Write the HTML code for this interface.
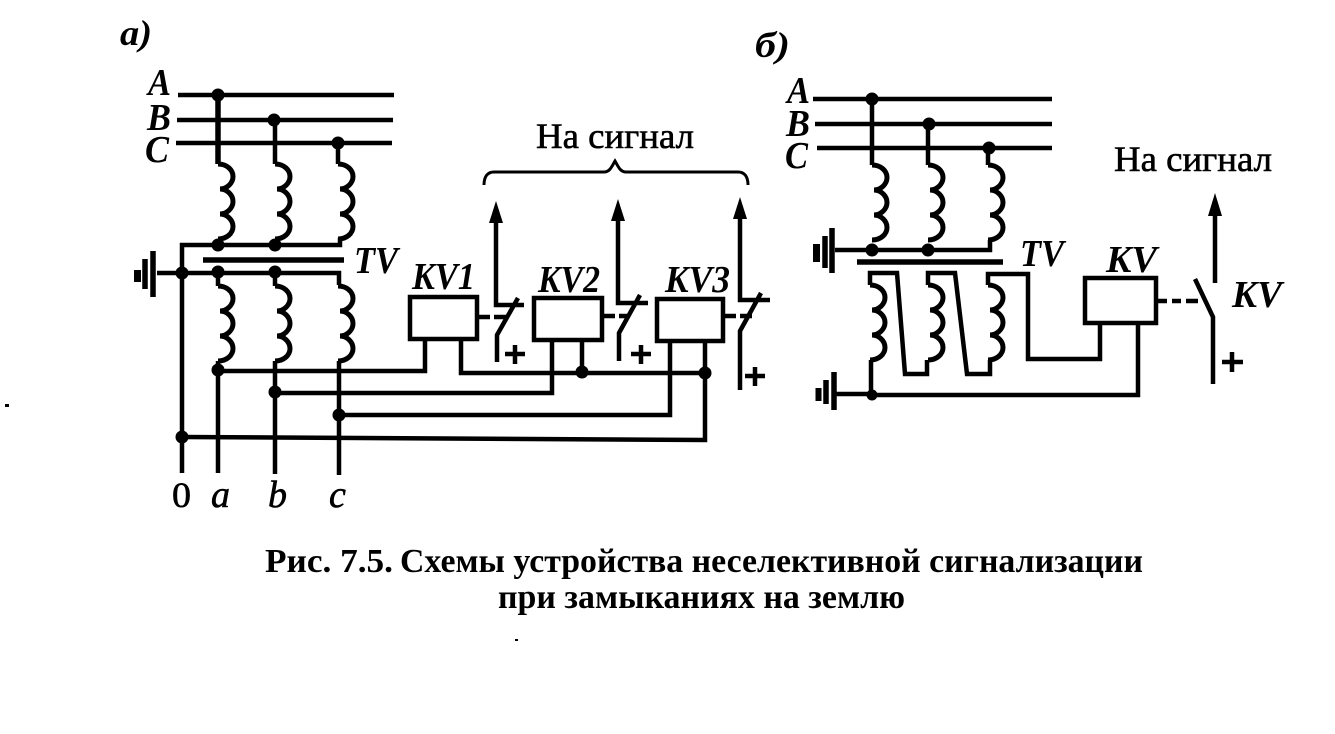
<!DOCTYPE html>
<html><head><meta charset="utf-8"><style>
html,body{margin:0;padding:0;background:#fff}
svg{display:block}
text{font-family:"Liberation Serif",serif;fill:#000}
.i{font-style:italic;font-weight:bold}
.l{fill:none;stroke:#000;stroke-width:4.5;stroke-linejoin:miter}
.s{stroke:#000;stroke-width:.6}
</style></head><body>
<svg width="1335" height="734" viewBox="0 0 1335 734" xmlns="http://www.w3.org/2000/svg">
<defs><path id="c" d="M0 0c9 0 15 6 15 12.500s-6 12.500-13 12.500c7 0 13 6 13 12.500s-6 12.500-13 12.500c7 0 13 6 13 12.500s-6 12.500-15 12.500" fill="none" stroke="#000" stroke-width="5"/></defs>

<!-- a) -->
<text x="120" y="45" font-size="36" class="i" textLength="32" lengthAdjust="spacingAndGlyphs">a)</text>
<text x="148" y="95" font-size="38" class="i" textLength="23" lengthAdjust="spacingAndGlyphs">A</text>
<text x="147" y="130" font-size="38" class="i" textLength="24" lengthAdjust="spacingAndGlyphs">B</text>
<text x="145" y="162" font-size="38" class="i" textLength="24" lengthAdjust="spacingAndGlyphs">C</text>
<path class="l" d="M178 95H394M177 120H393M176 143H392"/>
<path class="l" d="M218 95V164" style="stroke-width:5.500"/>
<path class="l" d="M275 120V164M338 143L338 164"/>
<use href="#c" x="218" y="164"/><use href="#c" x="275" y="164"/><use href="#c" x="338" y="164"/>
<path class="l" d="M182 473V245H340V238"/>
<path class="l" d="M203 260H344" style="stroke-width:5.500"/>
<path class="l" d="M157 273H339V285M218 273V286M275 273V286"/>
<path class="l" d="M153 251V297" style="stroke-width:5.500"/><path class="l" d="M145 259V289" style="stroke-width:5.500"/><path class="l" d="M137.500 270V282" style="stroke-width:7"/>
<use href="#c" x="218" y="286"/><use href="#c" x="275" y="286"/><use href="#c" x="338" y="286"/>
<path class="l" d="M218 361V473M275 361V474M339 361V475"/>
<path class="l" d="M218 371H425V339"/>
<path class="l" d="M461 339V373H706"/>
<path class="l" d="M275 393H552V340"/>
<path class="l" d="M339 415H670V341"/>
<path class="l" d="M182 437L705 440V341"/>
<path class="l" d="M582 340V372"/>
<g>
<circle cx="218" cy="95" r="6.500"/><circle cx="274" cy="120" r="6.500"/><circle cx="338" cy="143" r="6.500"/>
<circle cx="218" cy="245" r="6.500"/><circle cx="275" cy="245" r="6.500"/>
<circle cx="182" cy="273" r="6.500"/><circle cx="218" cy="272" r="6.500"/><circle cx="275" cy="272" r="6.500"/>
<circle cx="218" cy="370" r="6.500"/><circle cx="275" cy="392" r="6.500"/><circle cx="339" cy="415" r="6.500"/><circle cx="182" cy="437" r="6.500"/>
<circle cx="582" cy="372" r="6.500"/><circle cx="705" cy="373" r="6.500"/>
</g>
<text x="354" y="273" font-size="38" class="i" textLength="44" lengthAdjust="spacingAndGlyphs">TV</text>
<text x="172" y="507" font-size="36" class="s" textLength="19" lengthAdjust="spacingAndGlyphs">0</text>
<text x="211" y="507" font-size="38" font-style="italic" class="s">a</text>
<text x="268" y="507" font-size="38" font-style="italic" class="s">b</text>
<text x="329" y="507" font-size="38" font-style="italic" class="s">c</text>

<text x="412" y="289" font-size="38" class="i" textLength="63" lengthAdjust="spacingAndGlyphs">KV1</text>
<text x="538" y="292" font-size="38" class="i" textLength="62" lengthAdjust="spacingAndGlyphs">KV2</text>
<text x="665" y="292" font-size="38" class="i" textLength="65" lengthAdjust="spacingAndGlyphs">KV3</text>
<rect class="l" x="410" y="297" width="67" height="42"/>
<rect class="l" x="534" y="298" width="68" height="42"/>
<rect class="l" x="657" y="299" width="66" height="42"/>

<!-- contacts -->
<path class="l" d="M496 222V305H524M518 298L497 335V362M477 317H490M494 317H508"/>
<polygon points="496,201 489,223 503,223"/>
<path class="l" d="M618 220V303H648M640 295L619 333V361M602 316H615M619 316H630"/>
<polygon points="618,199 611,221 625,221"/>
<path class="l" d="M740 218V300H770M761 293L740 331V390M723 316H736M740 316H752"/>
<polygon points="740,197 733,219 747,219"/>
<path class="l" d="M515 345V364M505 354H525M641 345V364M631 354H651M755 367V386M745 376H765"/>
<text x="536" y="148" font-size="36" class="s" textLength="158" lengthAdjust="spacingAndGlyphs">На сигнал</text>
<path d="M484 185C484 176 488 172 494 172H604C610 172 612 166 615 161C618 166 620 172 626 172H738C744 172 748 176 748 185" fill="none" stroke="#000" stroke-width="3"/>

<!-- б) -->
<text x="755" y="57" font-size="36" class="i" textLength="35" lengthAdjust="spacingAndGlyphs">б)</text>
<text x="787" y="103" font-size="38" class="i" textLength="23" lengthAdjust="spacingAndGlyphs">A</text>
<text x="786" y="136" font-size="38" class="i" textLength="24" lengthAdjust="spacingAndGlyphs">B</text>
<text x="785" y="168" font-size="38" class="i" textLength="23" lengthAdjust="spacingAndGlyphs">C</text>
<path class="l" d="M813 99H1052M815 124H1052M817 148H1052"/>
<path class="l" d="M872 99V165M928 124V165M988 148V165"/>
<use href="#c" x="872" y="165"/><use href="#c" x="928" y="165"/><use href="#c" x="988" y="165"/>
<path class="l" d="M835 250H990V240"/>
<path class="l" d="M832 228V273" style="stroke-width:5.500"/><path class="l" d="M825 236V268" style="stroke-width:5.500"/><path class="l" d="M816.500 244V262" style="stroke-width:7"/>
<circle cx="872" cy="250" r="6.500"/><circle cx="928" cy="250" r="6.500"/>
<circle cx="872" cy="99" r="6.500"/><circle cx="929" cy="124" r="6.500"/><circle cx="989" cy="148" r="6.500"/>
<path class="l" d="M857 262H1003" style="stroke-width:5.500"/>
<use href="#c" x="870" y="285"/><use href="#c" x="928" y="285"/><use href="#c" x="988" y="285"/>
<path class="l" d="M870 285V273H897L905 374H927V360"/>
<path class="l" d="M928 285V273H955L967 374H990V360"/>
<path class="l" d="M988 285V274H1028V359H1100V323"/>
<path class="l" d="M871 360V395H1138V323"/>
<path class="l" d="M836 394H872"/>
<path class="l" d="M834 372V410" style="stroke-width:5.500"/><path class="l" d="M826 380V404" style="stroke-width:5.500"/><path class="l" d="M818.500 388V401" style="stroke-width:6"/>
<circle cx="872" cy="395" r="5.500"/>
<rect class="l" x="1085" y="278" width="71" height="45"/>
<path class="l" d="M1156 301H1167M1172 301H1181M1186 301H1198"/>
<path class="l" d="M1195 279L1213 317V384M1215 214V283"/>
<polygon points="1215,193 1208,216 1222,216"/>
<path class="l" d="M1232 352V372M1222 362H1243"/>
<text x="1020" y="266" font-size="38" class="i" textLength="44" lengthAdjust="spacingAndGlyphs">TV</text>
<text x="1106" y="272" font-size="38" class="i" textLength="51" lengthAdjust="spacingAndGlyphs">KV</text>
<text x="1232" y="307" font-size="38" class="i" textLength="50" lengthAdjust="spacingAndGlyphs">KV</text>
<text x="1114" y="171" font-size="36" class="s" textLength="158" lengthAdjust="spacingAndGlyphs">На сигнал</text>

<!-- caption -->
<text x="265" y="572" font-size="34" font-weight="bold" textLength="128" lengthAdjust="spacingAndGlyphs">Рис. 7.5.</text>
<text x="400" y="572" font-size="34" font-weight="bold" textLength="743" lengthAdjust="spacingAndGlyphs">Схемы устройства неселективной сигнализации</text>
<text x="498" y="608" font-size="34" font-weight="bold" textLength="407" lengthAdjust="spacingAndGlyphs">при замыканиях на землю</text>
<rect x="5" y="404" width="4" height="3"/><rect x="515" y="639" width="3" height="2"/>
</svg>
</body></html>
